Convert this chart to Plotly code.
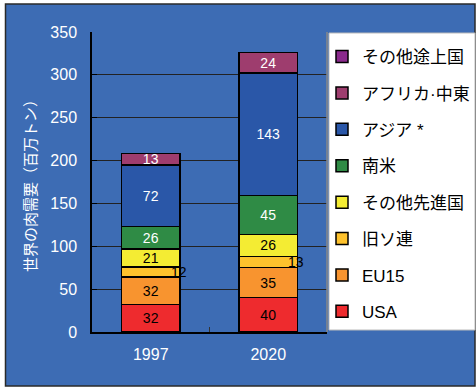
import plotly.graph_objects as go

years = ["1997", "2020"]
series_names = ["USA", "EU15", "旧ソ連", "その他先進国", "南米", "アジア *", "アフリカ·中東", "その他途上国"]
usa = [32, 40]
eu15 = [32, 35]
ussr = [12, 13]
other_dev = [21, 26]
s_america = [26, 45]
asia = [72, 143]
africa_me = [13, 24]
other_devg = [0, 0]
y_ticks = [0, 50, 100, 150, 200, 250, 300, 350]

values = [usa, eu15, ussr, other_dev, s_america, asia, africa_me, other_devg]
colors = ["#EE2B2E", "#F8942F", "#FEC22D", "#F4EC33", "#2F8B45", "#2A57A8", "#9E3D6E", "#8A2A8C"]
text_colors = ["black", "black", "black", "black", "white", "white", "white", "white"]
show_text = [True, True, False, True, True, True, True, False]

JP = "Liberation Sans, Arial, Noto Sans CJK JP"

fig = go.Figure()
n = len(series_names)
for i, (name, vals) in enumerate(zip(series_names, values)):
    fig.add_trace(go.Bar(
        x=years, y=vals, name=name,
        marker=dict(color=colors[i], line=dict(color="black", width=1.5)),
        text=[str(v) if show_text[i] else "" for v in vals],
        textposition="inside", insidetextanchor="middle", textangle=0,
        constraintext="none",
        textfont=dict(color=text_colors[i], size=14, family=JP),
        legendgroup=name, legendrank=n - i,
        hoverinfo="skip",
    ))

# 旧ソ連 labels sit at the right edge of each bar
for j, yr in enumerate(years):
    base = usa[j] + eu15[j]
    fig.add_annotation(x=j, y=base + ussr[j] / 2, text=str(ussr[j]), showarrow=False,
                       xshift=28, font=dict(size=14, color="black", family=JP))

def px(x):
    return (x - 92) / 235

def py(y):
    return (332 - y) / 300

shapes = [
    dict(type="rect", xref="paper", yref="paper", x0=px(5.5), x1=px(475), y0=py(386), y1=py(4),
         fillcolor="#3D6CB4", line=dict(color="#2a2a2a", width=1.5), layer="below"),
    dict(type="rect", xref="paper", yref="paper", x0=px(329), x1=px(475), y0=py(330), y1=py(33),
         fillcolor="white", line=dict(color="#bbbbbb", width=1), layer="below"),
    dict(type="line", xref="paper", yref="paper", x0=px(327), x1=px(327), y0=py(332), y1=py(32),
         line=dict(color="#888888", width=1.5), layer="above"),
]

fig.update_layout(
    width=476, height=389,
    margin=dict(l=92, r=149, t=32, b=57, autoexpand=False),
    paper_bgcolor="white", plot_bgcolor="white",
    barmode="stack", bargap=0.5,
    font=dict(family=JP),
    shapes=shapes,
    showlegend=True,
    legend=dict(x=px(322), xanchor="left", y=py(39), yanchor="top",
                traceorder="grouped", tracegroupgap=11.3, maxheight=380,
                bgcolor="rgba(0,0,0,0)", font=dict(size=17, color="black",
                family="Liberation Sans, Noto Sans CJK JP")),
    xaxis=dict(type="category", range=[-0.5, 1.5], showgrid=False, showline=True,
               linecolor="black", linewidth=1.5,
               ticks="inside", tickson="boundaries", ticklen=5, tickcolor="#333",
               tickfont=dict(size=16, color="white"), ticklabelstandoff=7),
    yaxis=dict(range=[0, 350], tickvals=y_ticks, showgrid=True, gridcolor="#222", gridwidth=1,
               showline=True, linecolor="black", linewidth=1.5, ticks="inside", ticklen=5,
               tickcolor="black", zeroline=False,
               tickfont=dict(size=16, color="white"), ticklabelstandoff=10,
               title=dict(text="世界の肉需要（百万トン）", standoff=10,
                          font=dict(size=15, color="white", family="Noto Sans CJK JP"))),
)

fig.write_html("out.html")
